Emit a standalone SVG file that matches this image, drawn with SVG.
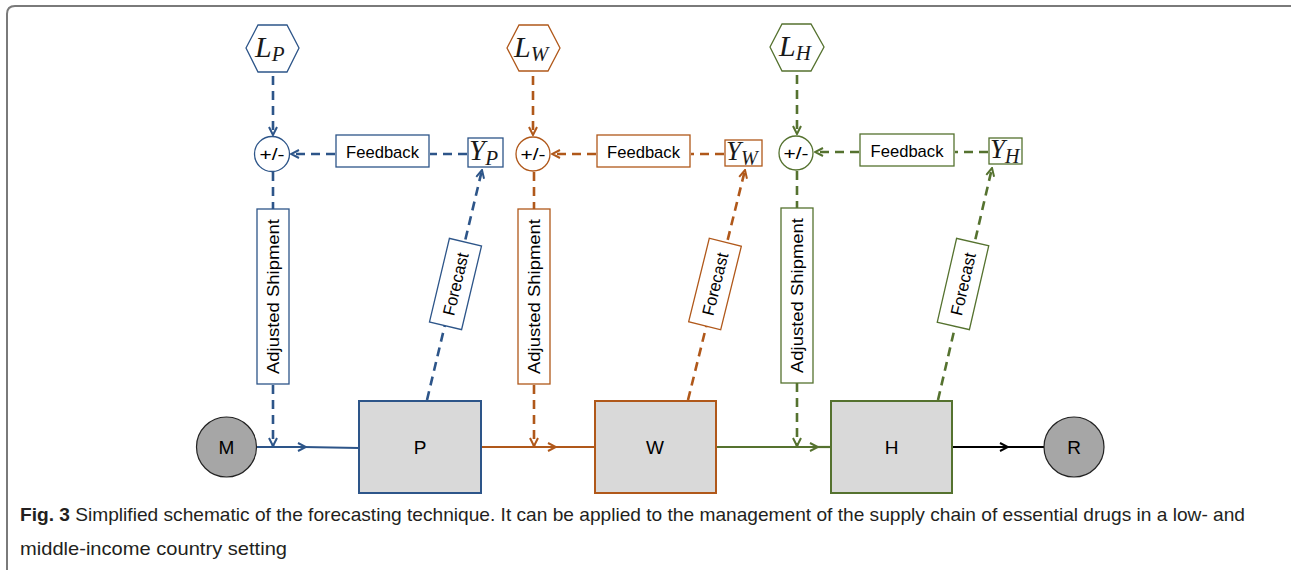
<svg xmlns="http://www.w3.org/2000/svg" width="1291" height="570" viewBox="0 0 1291 570">
  <style>
    .lbl { font-family: "Liberation Sans", Arial, sans-serif; font-size: 17px; fill: #000; }
    .node { font-family: "Liberation Sans", Arial, sans-serif; font-size: 19px; fill: #000; }
    .math { font-family: "Liberation Serif", "Times New Roman", serif; font-style: italic; fill: #1a1a1a; }
    .cap { font-family: "Liberation Sans", Arial, sans-serif; font-size: 19px; fill: #231f20; }
    .box { fill: #fff; stroke-width: 1.3; }
    .stage { fill: #d9d9d9; stroke-width: 2; }
    .end { fill: #a6a6a6; stroke: #222; stroke-width: 1.2; }
    .dash { fill: none; stroke-width: 2.6; stroke-dasharray: 9 6; }
    .solid { fill: none; stroke-width: 2.2; }
    .b { stroke: #2d5589; }
    .o { stroke: #b0581a; }
    .g { stroke: #55722f; }
    .k { stroke: #000; }
  </style>
  <defs>
    <marker id="arrB" viewBox="0 0 10 10" refX="9" refY="5" markerWidth="10" markerHeight="10" markerUnits="userSpaceOnUse" orient="auto">
      <path d="M1,1 L9,5 L1,9" fill="none" stroke="#2d5589" stroke-width="2"/>
    </marker>
    <marker id="arrO" viewBox="0 0 10 10" refX="9" refY="5" markerWidth="10" markerHeight="10" markerUnits="userSpaceOnUse" orient="auto">
      <path d="M1,1 L9,5 L1,9" fill="none" stroke="#b0581a" stroke-width="2"/>
    </marker>
    <marker id="arrG" viewBox="0 0 10 10" refX="9" refY="5" markerWidth="10" markerHeight="10" markerUnits="userSpaceOnUse" orient="auto">
      <path d="M1,1 L9,5 L1,9" fill="none" stroke="#55722f" stroke-width="2"/>
    </marker>
    <marker id="arrK" viewBox="0 0 10 10" refX="9" refY="5" markerWidth="10" markerHeight="10" markerUnits="userSpaceOnUse" orient="auto">
      <path d="M1,1 L9,5 L1,9" fill="none" stroke="#000" stroke-width="2"/>
    </marker>
  </defs>

  <!-- figure frame -->
  <path d="M7,570 V14 Q7,6 15,6 H1291" fill="none" stroke="#7a7a7a" stroke-width="2"/>

  <!-- connectors -->
  <g id="connectors">
    <!-- blue stage (P) -->
    <line class="dash b" x1="273" y1="76" x2="273" y2="135" marker-end="url(#arrB)"/>
    <line class="dash b" x1="467" y1="154" x2="430" y2="154"/>
    <line class="dash b" x1="335" y1="154" x2="291" y2="154" marker-end="url(#arrB)"/>
    <line class="dash b" x1="273" y1="172" x2="273" y2="209"/>
    <line class="dash b" x1="273" y1="385" x2="273" y2="446" marker-end="url(#arrB)"/>
    <line class="dash b" x1="427" y1="400" x2="482" y2="170" marker-end="url(#arrB)"/>
    <line class="solid b" x1="256" y1="447" x2="306" y2="447" marker-end="url(#arrB)"/>
    <line class="solid b" x1="304" y1="447" x2="359" y2="448"/>

    <!-- orange stage (W) -->
    <line class="dash o" x1="533" y1="76" x2="533" y2="135" marker-end="url(#arrO)"/>
    <line class="dash o" x1="724" y1="154" x2="691" y2="154"/>
    <line class="dash o" x1="596" y1="154" x2="552" y2="154" marker-end="url(#arrO)"/>
    <line class="dash o" x1="534" y1="172" x2="534" y2="209"/>
    <line class="dash o" x1="534" y1="385" x2="534" y2="446" marker-end="url(#arrO)"/>
    <line class="dash o" x1="688" y1="400" x2="745" y2="170" marker-end="url(#arrO)"/>
    <line class="solid o" x1="482" y1="447" x2="556" y2="447" marker-end="url(#arrO)"/>
    <line class="solid o" x1="554" y1="447" x2="595" y2="447"/>

    <!-- green stage (H) -->
    <line class="dash g" x1="797" y1="75" x2="797" y2="134" marker-end="url(#arrG)"/>
    <line class="dash g" x1="988" y1="152" x2="955" y2="152"/>
    <line class="dash g" x1="859" y1="152" x2="815" y2="152" marker-end="url(#arrG)"/>
    <line class="dash g" x1="797" y1="171" x2="797" y2="208"/>
    <line class="dash g" x1="797" y1="383" x2="797" y2="446" marker-end="url(#arrG)"/>
    <line class="dash g" x1="938" y1="400" x2="992" y2="168" marker-end="url(#arrG)"/>
    <line class="solid g" x1="717" y1="447" x2="818" y2="447" marker-end="url(#arrG)"/>
    <line class="solid g" x1="816" y1="447" x2="831" y2="447"/>

    <!-- H to R -->
    <line class="solid k" x1="953" y1="447" x2="1008" y2="447" marker-end="url(#arrK)"/>
    <line class="solid k" x1="1006" y1="447" x2="1044" y2="447" stroke-width="1.6"/>
  </g>

  <!-- blue stage nodes -->
  <g id="LP">
    <polygon class="box b" points="246,48 258,25 287,25 299,48 287,72 258,72"/>
    <text class="math" x="255" y="57" font-size="30">L<tspan font-size="21" dy="4">P</tspan></text>
  </g>
  <g id="sumP">
    <circle class="box b" cx="272" cy="154" r="17.5"/>
    <text class="lbl" x="272" y="160" text-anchor="middle" textLength="25" lengthAdjust="spacingAndGlyphs">+/-</text>
  </g>
  <g id="feedbackP">
    <rect class="box b" x="336" y="135" width="93" height="32"/>
    <text class="lbl" x="382.5" y="157.5" text-anchor="middle" textLength="73" lengthAdjust="spacingAndGlyphs">Feedback</text>
  </g>
  <g id="YP">
    <rect class="box b" x="468" y="138" width="35" height="29"/>
    <text class="math" x="469" y="160" font-size="29">Y<tspan font-size="21" dy="5">P</tspan></text>
  </g>
  <g id="shipP">
    <rect class="box b" x="257" y="209" width="32" height="175"/>
    <text class="lbl" transform="translate(279,296.5) rotate(-90)" text-anchor="middle" textLength="155" lengthAdjust="spacingAndGlyphs">Adjusted Shipment</text>
  </g>
  <g id="forecastP" transform="translate(455.5,284) rotate(13.4)">
    <rect class="box b" x="-16.5" y="-43" width="33" height="86"/>
    <text class="lbl" transform="rotate(-90)" x="0" y="6" text-anchor="middle" textLength="64" lengthAdjust="spacingAndGlyphs">Forecast</text>
  </g>
  <g id="P">
    <rect class="stage b" x="359" y="401" width="122" height="92"/>
    <text class="node" x="420" y="454" text-anchor="middle">P</text>
  </g>

  <!-- orange stage nodes -->
  <g id="LW">
    <polygon class="box o" points="507,48 519,25 548,25 560,48 548,71 519,71"/>
    <text class="math" x="514" y="57" font-size="30">L<tspan font-size="21" dy="4">W</tspan></text>
  </g>
  <g id="sumW">
    <circle class="box o" cx="533" cy="154" r="17"/>
    <text class="lbl" x="533" y="160" text-anchor="middle" textLength="25" lengthAdjust="spacingAndGlyphs">+/-</text>
  </g>
  <g id="feedbackW">
    <rect class="box o" x="597" y="135" width="93" height="32"/>
    <text class="lbl" x="643.5" y="157.5" text-anchor="middle" textLength="73" lengthAdjust="spacingAndGlyphs">Feedback</text>
  </g>
  <g id="YW">
    <rect class="box o" x="725" y="140" width="37" height="26"/>
    <text class="math" x="726" y="160" font-size="27">Y<tspan font-size="20" dy="5">W</tspan></text>
  </g>
  <g id="shipW">
    <rect class="box o" x="518" y="209" width="32" height="175"/>
    <text class="lbl" transform="translate(540,296.5) rotate(-90)" text-anchor="middle" textLength="155" lengthAdjust="spacingAndGlyphs">Adjusted Shipment</text>
  </g>
  <g id="forecastW" transform="translate(715,284) rotate(13.9)">
    <rect class="box o" x="-16.5" y="-43" width="33" height="86"/>
    <text class="lbl" transform="rotate(-90)" x="0" y="6" text-anchor="middle" textLength="64" lengthAdjust="spacingAndGlyphs">Forecast</text>
  </g>
  <g id="W">
    <rect class="stage o" x="595" y="401" width="121" height="92"/>
    <text class="node" x="655" y="454" text-anchor="middle">W</text>
  </g>

  <!-- green stage nodes -->
  <g id="LH">
    <polygon class="box g" points="770,47 782,24 811,24 824,47 811,71 782,71"/>
    <text class="math" x="779" y="56" font-size="30">L<tspan font-size="21" dy="4">H</tspan></text>
  </g>
  <g id="sumH">
    <circle class="box g" cx="796" cy="153" r="17"/>
    <text class="lbl" x="796" y="159" text-anchor="middle" textLength="25" lengthAdjust="spacingAndGlyphs">+/-</text>
  </g>
  <g id="feedbackH">
    <rect class="box g" x="860" y="134" width="94" height="32"/>
    <text class="lbl" x="907" y="156.5" text-anchor="middle" textLength="73" lengthAdjust="spacingAndGlyphs">Feedback</text>
  </g>
  <g id="YH">
    <rect class="box g" x="989" y="138" width="33" height="26"/>
    <text class="math" x="990" y="158" font-size="27">Y<tspan font-size="20" dy="5">H</tspan></text>
  </g>
  <g id="shipH">
    <rect class="box g" x="781" y="208" width="32" height="175"/>
    <text class="lbl" transform="translate(803,295.5) rotate(-90)" text-anchor="middle" textLength="155" lengthAdjust="spacingAndGlyphs">Adjusted Shipment</text>
  </g>
  <g id="forecastH" transform="translate(963,284) rotate(13)">
    <rect class="box g" x="-16.5" y="-43" width="33" height="86"/>
    <text class="lbl" transform="rotate(-90)" x="0" y="6" text-anchor="middle" textLength="64" lengthAdjust="spacingAndGlyphs">Forecast</text>
  </g>
  <g id="H">
    <rect class="stage g" x="831" y="401" width="121" height="92"/>
    <text class="node" x="891.5" y="454" text-anchor="middle">H</text>
  </g>

  <!-- source and sink -->
  <g id="M">
    <circle class="end" cx="226.5" cy="447" r="30"/>
    <text class="node" x="226.5" y="454" text-anchor="middle">M</text>
  </g>
  <g id="R">
    <circle class="end" cx="1074" cy="447" r="30"/>
    <text class="node" x="1074" y="454" text-anchor="middle">R</text>
  </g>

  <!-- caption -->
  <text class="cap" x="20" y="521" textLength="1225" lengthAdjust="spacingAndGlyphs"><tspan font-weight="bold">Fig. 3</tspan> Simplified schematic of the forecasting technique. It can be applied to the management of the supply chain of essential drugs in a low- and</text>
  <text class="cap" x="20" y="555" textLength="267" lengthAdjust="spacingAndGlyphs">middle-income country setting</text>
</svg>
